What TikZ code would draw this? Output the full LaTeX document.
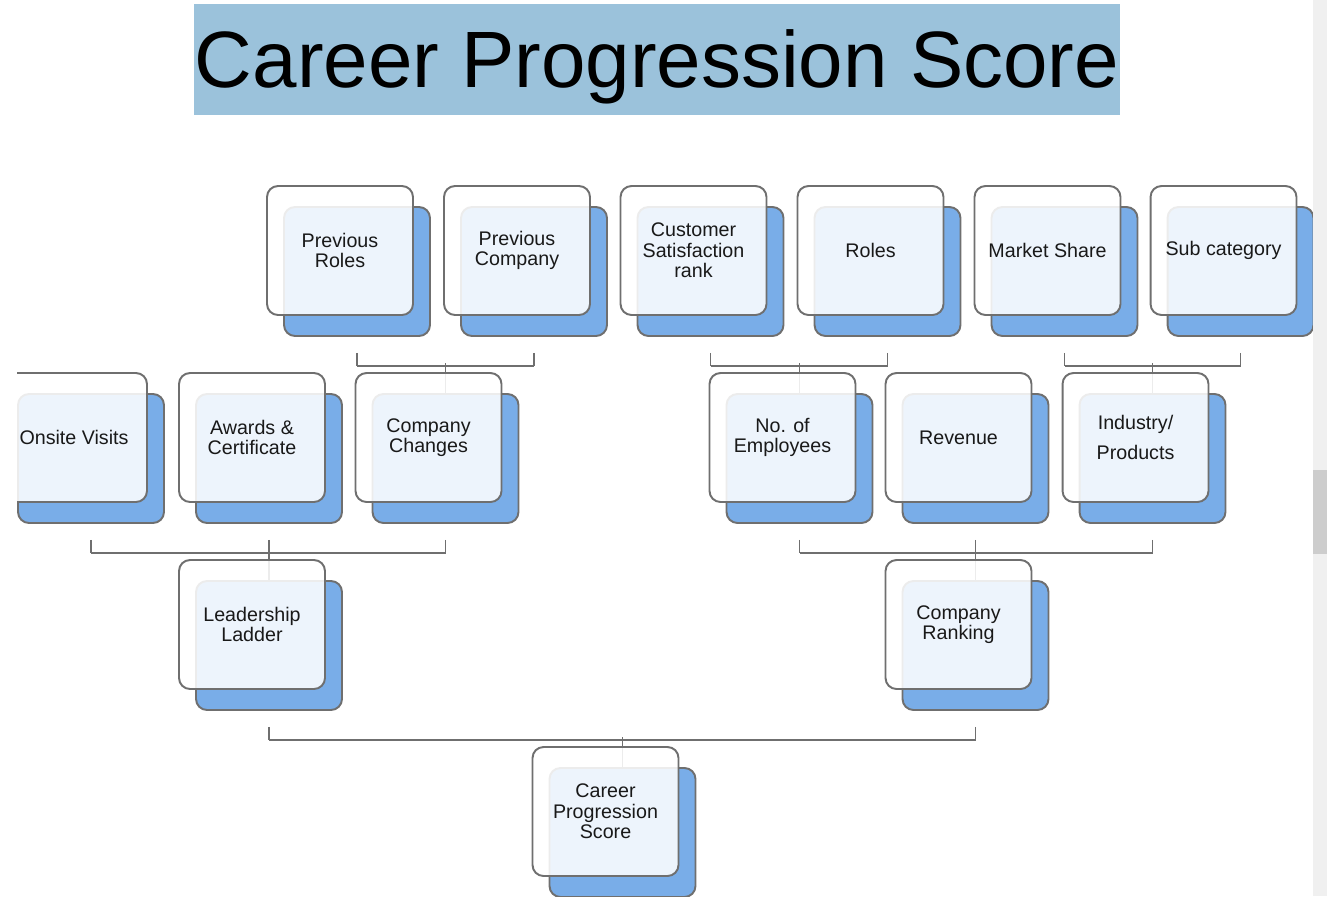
\documentclass[tikz,border=0pt]{standalone}
\usepackage{fontspec}
\setmainfont{Liberation Sans}
\usepackage{tikz}
\pgfdeclarelayer{back}
\pgfsetlayers{back,main}
\definecolor{bandblue}{HTML}{9BC2DB}
\definecolor{panelblue}{HTML}{79ADE8}
\definecolor{edgegray}{HTML}{6F6F6F}
\definecolor{bargray}{HTML}{F0F0F0}
\definecolor{thumbgray}{HTML}{CDCDCD}
\tikzset{
	panel/.style={draw=edgegray, line width=1.1pt, rounded corners=0.22cm, fill=white, fill opacity=0.87, text opacity=1,
		minimum width=2.92cm, minimum height=2.58cm, align=center, font=\fontsize{11.2}{11.6}\selectfont, text=black!90},
	underpanel/.style={panel, fill=panelblue, fill opacity=1},
	link/.style={draw=edgegray, line width=1.1pt},
}
\newcommand{\panelnode}[4]{%
	\node[underpanel] (#1-s) at (#2+17,#3+21) {};
	\node[panel] (#1) at (#2,#3) {#4};
}

\begin{document}
\begin{tikzpicture}[x=0.02cm, y=-0.02cm]
	\useasboundingbox (0,0) rectangle (1327,896);
	\node[fill=bandblue, inner sep=0pt, minimum width=18.52cm, minimum height=2.22cm, text height=32.3pt, text depth=0pt,
		font=\fontsize{45.5}{45.5}\selectfont] (title) at (657,59.5) {Career Progression Score};
	\begin{scope}
		\clip (17,0) rectangle (1313,896);
		\panelnode{pr}{340}{250.5}{Previous\\Roles}
		\panelnode{pc}{517}{250.5}{Previous\\Company}
		\panelnode{cs}{693.5}{250.5}{Customer\\Satisfaction\\rank}
		\panelnode{ro}{870.5}{250.5}{Roles}
		\panelnode{ms}{1047.5}{250.5}{Market Share}
		\panelnode{sc}{1223.5}{250.5}{Sub category}
		\panelnode{ov}{74}{437.5}{Onsite Visits}
		\panelnode{ac}{252}{437.5}{Awards \&\\Certificate}
		\panelnode{cc}{428.5}{437.5}{Company\\Changes}
		\panelnode{ne}{782.5}{437.5}{No. of\\Employees}
		\panelnode{rv}{958.5}{437.5}{Revenue}
		\panelnode{ip}{1135.5}{437.5}{Industry/\\[0.2cm]Products}
		\panelnode{ll}{252}{624.5}{Leadership\\Ladder}
		\panelnode{cr}{958.5}{624.5}{Company\\Ranking}
		\panelnode{cp}{605.5}{811.5}{Career\\Progression\\Score}
	\end{scope}
	\begin{pgfonlayer}{back}
		\foreach \p in {pr,pc,cs,ro,ms,sc,ov,ac,cc,ne,rv,ip,ll,cr}
			\draw[link] ([yshift=-0.32cm]\p-s.south) -- ([yshift=-0.58cm]\p-s.south);
		\foreach \a/\b/\c in {pr/pc/cc,cs/ro/ne,ms/sc/ip,ov/cc/ll,ne/ip/cr,ll/cr/cp} {
			\draw[link] ([yshift=-0.58cm]\a-s.south) -- ([yshift=-0.58cm]\b-s.south);
			\draw[link] (\c-s.north) -- ++(0,-30);
		}
	\end{pgfonlayer}
	\fill[bargray] (1313,0) rectangle (1327,896);
	\fill[thumbgray] (1313,470) rectangle (1327,554);
\end{tikzpicture}
\end{document}
